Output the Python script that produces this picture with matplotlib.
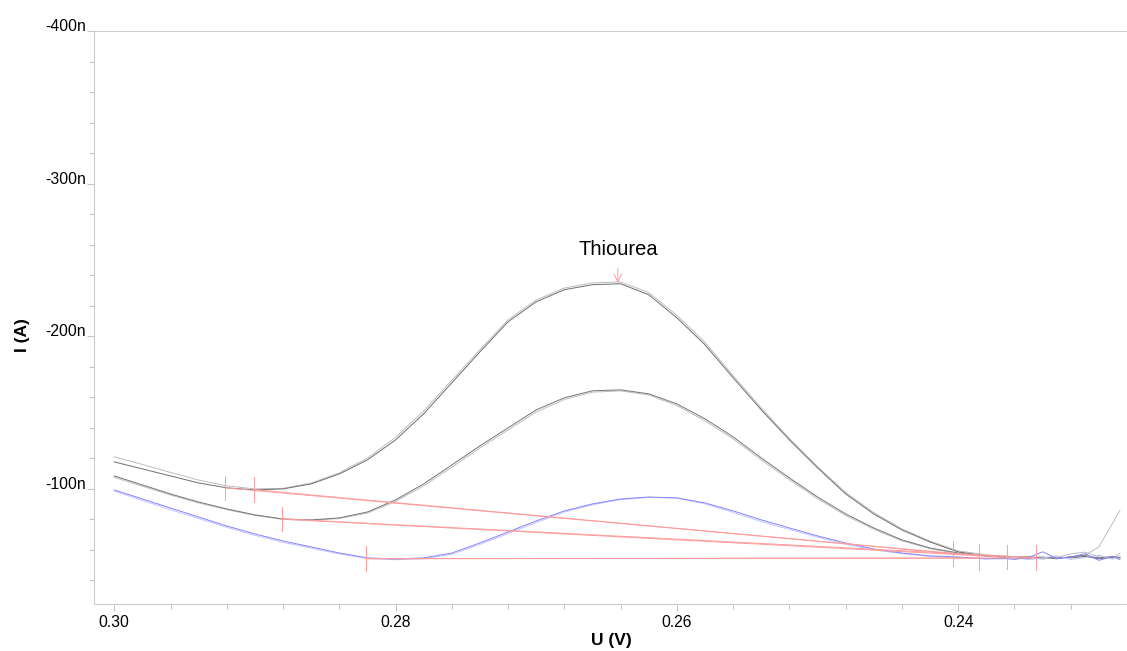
import matplotlib
matplotlib.use("Agg")
import matplotlib.pyplot as plt
from matplotlib.ticker import MultipleLocator, FuncFormatter

plt.rcParams['font.family'] = ['Liberation Sans', 'DejaVu Sans']

# ---------- DATA ----------
# potential (V), scanned from 0.30 V downwards
potential = [0.300, 0.298, 0.296, 0.294, 0.292, 0.290, 0.288, 0.286, 0.284, 0.282,
             0.280, 0.278, 0.276, 0.274, 0.272, 0.270, 0.268, 0.266, 0.264, 0.262,
             0.260, 0.258, 0.256, 0.254, 0.252, 0.250, 0.248, 0.246, 0.244, 0.242,
             0.240, 0.238, 0.237, 0.236, 0.235, 0.234, 0.233, 0.232, 0.231, 0.230,
             0.229, 0.2285]

# currents in nA (negative = cathodic, plotted upwards)
high_1 = [-117.7, -113.1, -108.5, -103.9, -100.7, -99.3, -100.0, -103.3, -109.8, -119.0,
          -132.1, -149.2, -169.5, -189.8, -209.5, -222.6, -230.5, -233.8, -234.4, -227.2,
          -212.1, -194.4, -172.8, -151.8, -132.1, -113.8, -96.7, -83.6, -73.1, -65.2,
          -58.7, -56.1, -55.6, -55.0, -55.4, -54.6, -55.3, -54.8, -55.8, -54.3,
          -55.2, -54.8]
high_2 = [-121.0, -116.0, -110.8, -105.8, -102.0, -100.0, -100.4, -103.8, -110.6, -120.2,
          -133.8, -151.0, -171.2, -191.2, -210.8, -223.8, -231.6, -235.0, -235.6, -228.6,
          -213.8, -196.0, -174.2, -153.0, -133.0, -114.6, -97.6, -84.4, -73.8, -65.8,
          -59.4, -56.8, -56.0, -55.6, -55.8, -55.0, -54.4, -55.5, -56.5, -62.0,
          -78.0, -86.0]
mid_1 = [-108.5, -102.6, -96.7, -91.4, -86.9, -83.0, -80.3, -79.7, -81.0, -84.9,
         -92.8, -103.3, -115.7, -128.2, -140.0, -151.8, -159.7, -164.3, -164.9, -162.3,
         -155.7, -145.9, -134.1, -120.3, -107.2, -94.7, -83.6, -74.4, -66.6, -61.3,
         -58.0, -56.1, -55.5, -55.0, -54.6, -55.4, -54.2, -55.6, -56.4, -54.8,
         -55.8, -55.0]
mid_2 = [-107.6, -101.8, -96.0, -90.8, -86.4, -82.6, -80.0, -79.4, -80.6, -84.2,
         -91.8, -102.0, -114.2, -126.8, -138.6, -150.4, -158.6, -163.4, -164.2, -161.6,
         -154.6, -144.6, -132.8, -119.0, -106.0, -93.6, -82.6, -73.6, -66.0, -60.8,
         -57.6, -56.0, -55.2, -54.6, -55.0, -54.0, -55.2, -57.4, -58.6, -55.6,
         -54.2, -58.0]
low_1 = [-99.3, -93.4, -87.5, -81.6, -75.7, -70.5, -65.9, -62.0, -58.0, -54.8,
         -54.1, -54.8, -58.0, -64.6, -71.8, -79.0, -85.6, -90.2, -93.4, -94.7,
         -94.1, -90.8, -85.6, -79.7, -74.4, -69.2, -64.6, -60.6, -58.0, -56.1,
         -55.4, -54.1, -54.6, -53.8, -55.0, -58.8, -54.4, -55.2, -57.6, -53.2,
         -55.8, -53.6]
low_2 = [-98.6, -92.4, -86.4, -80.6, -74.8, -69.6, -65.0, -61.2, -57.4, -54.4,
         -53.6, -54.2, -57.2, -63.6, -70.8, -78.0, -84.8, -89.6, -93.0, -94.4,
         -94.0, -90.2, -84.6, -78.6, -73.4, -68.4, -63.8, -60.0, -57.6, -55.8,
         -55.0, -54.4, -54.0, -55.2, -53.6, -54.8, -56.2, -53.8, -55.0, -56.6,
         -54.0, -56.4]

# peak baselines: start / end points
base_v0 = [0.2921, 0.2901, 0.2881, 0.2881, 0.2821, 0.2821]
base_i0 = [-100.7, -99.5, -80.2, -80.4, -54.4, -54.2]
base_v1 = [0.2404, 0.2385, 0.2365, 0.2345, 0.2385, 0.2345]
base_i1 = [-57.8, -56.0, -55.3, -55.0, -54.6, -54.8]

peak_label = "Thiourea"
peak_v, peak_i = 0.2642, -235.0

# ---------- PLOT ----------
fig = plt.figure(figsize=(11.27, 6.51), dpi=100)
ax = fig.add_axes([94 / 1127, 1 - 604 / 651, 1 - 94 / 1127, (604 - 31) / 651])

ax.plot(potential, high_2, color='#bdbdbd', lw=0.7)
ax.plot(potential, high_1, color='#6e6e6e', lw=0.7)
ax.plot(potential, mid_2, color='#bdbdbd', lw=0.7)
ax.plot(potential, mid_1, color='#767676', lw=0.7)
ax.plot(potential, low_2, color='#c4c4ff', lw=0.7)
ax.plot(potential, low_1, color='#8484ff', lw=0.7)

red = '#ff9c9c'
for v0, i0, v1, i1 in zip(base_v0, base_i0, base_v1, base_i1):
    ax.plot([v0, v1], [i0, i1], color=red, lw=0.7)
    ax.plot([v0, v0], [i0 - 8, i0 + 8], color=red, lw=0.7)
    ax.plot([v1, v1], [i1 - 8, i1 + 8], color=red, lw=0.7)

ax.annotate(peak_label, xy=(peak_v, peak_i), xytext=(peak_v, peak_i - 22),
            ha='center', va='center', fontsize=14.5,
            arrowprops=dict(arrowstyle='->', color=red, lw=0.7, shrinkA=5, shrinkB=0))

ax.set_xlim(0.30144, 0.2280)
ax.set_ylim(-24.6, -400)

ax.xaxis.set_major_locator(MultipleLocator(0.02))
ax.xaxis.set_minor_locator(MultipleLocator(0.004))
ax.xaxis.set_major_formatter(FuncFormatter(lambda v, p: f"{v:.2f}"))
ax.yaxis.set_major_locator(MultipleLocator(100))
ax.yaxis.set_minor_locator(MultipleLocator(20))
ax.yaxis.set_major_formatter(FuncFormatter(lambda v, p: f"{v:.0f}n"))

ax.tick_params(axis='both', which='both', color='#c4c4c4', labelsize=11.3, labelcolor='black')
ax.tick_params(axis='both', which='major', length=5, width=0.8)
ax.tick_params(axis='both', which='minor', length=3.6, width=0.8)
ax.tick_params(axis='y', pad=1)
ax.tick_params(axis='x', pad=3)
for lab in ax.get_yticklabels():
    lab.set_verticalalignment('baseline')

for side in ['left', 'bottom', 'top']:
    ax.spines[side].set_color('#cccccc')
    ax.spines[side].set_linewidth(0.8)
ax.spines['right'].set_visible(False)

fig.text(22 / 1127, 1 - 335 / 651, "I (A)", rotation=90, ha='center', va='center',
         fontsize=12.5, fontweight='bold')
fig.text(611 / 1127, 1 - 641 / 651, "U (V)", ha='center', va='center',
         fontsize=12.5, fontweight='bold')

fig.savefig("out.png", dpi=100)
